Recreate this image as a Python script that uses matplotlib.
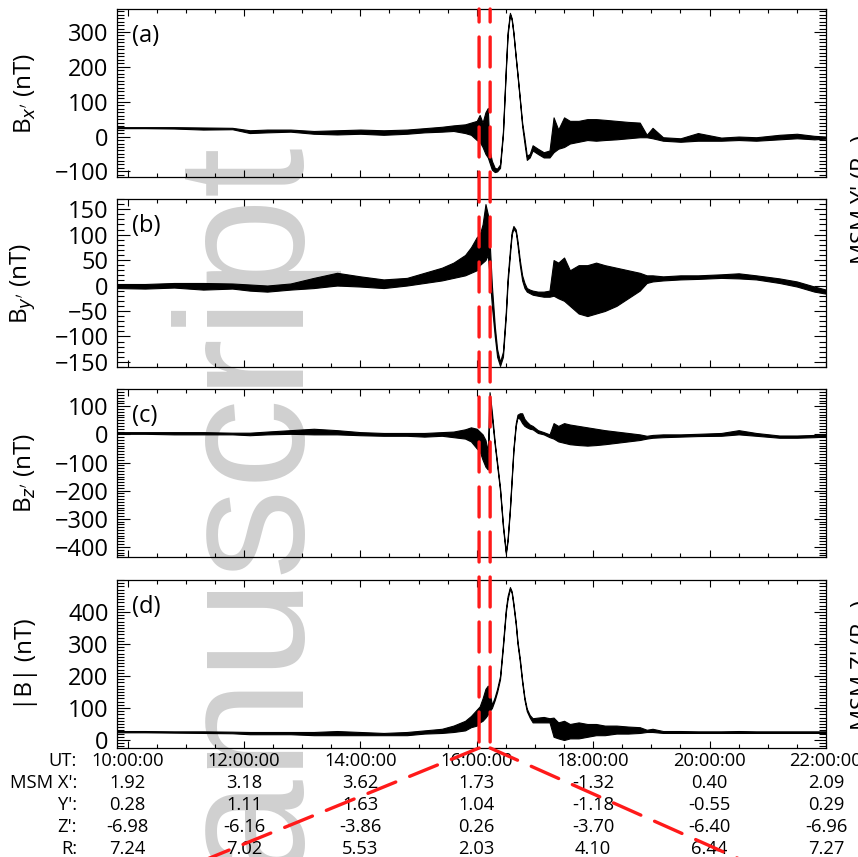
import numpy as np
import matplotlib
matplotlib.use('Agg')
import matplotlib.pyplot as plt
from matplotlib.patches import ConnectionPatch
from matplotlib.ticker import MultipleLocator

plt.rcParams['font.family'] = ['Open Sans', 'DejaVu Sans']

# time knots (hours UT) and lower / upper envelope of the trace
t_hr = [9.82, 10.3, 10.8, 11.3, 11.8, 12.1, 12.4, 12.8, 13.2, 13.6, 14.0, 14.4, 14.8,
        15.1, 15.4, 15.6, 15.8, 15.9, 16.0, 16.05, 16.1, 16.15, 16.19, 16.22, 16.26,
        16.31, 16.35, 16.40, 16.45, 16.50, 16.53, 16.57, 16.60, 16.63, 16.67, 16.70,
        16.74, 16.78, 16.82, 16.86, 16.91, 16.96, 17.05, 17.15, 17.25, 17.32, 17.40,
        17.50, 17.60, 17.75, 17.90, 18.05, 18.2, 18.4, 18.6, 18.8, 18.92, 19.02, 19.2,
        19.5, 19.8, 20.2, 20.5, 20.8, 21.2, 21.5, 21.8, 22.0]

bx_lo = [24, 24, 23, 20, 21, 10, 12, 14, 8, 6, 8, 5, 8,
         12, 14, 16, 10, 5, -10, -15, -30, -50, -60, -75, -95,
         -102, -100, -90, 5, 190, 290, 350, 335, 295, 225, 175,
         105, 30, -20, -67, -60, -40, -50, -60, -60, -45, -35,
         -30, -20, -15, -10, -12, -10, -8, -5, -2, -2, -5, -12,
         -15, -12, -12, -10, -12, -8, -5, -8, -6]
bx_hi = [27, 27, 27, 26, 25, 18, 20, 20, 16, 18, 20, 18, 20,
         24, 28, 32, 35, 40, 45, 62, 40, 70, 82, -40, -70,
         -90, -92, -80, 15, 200, 300, 355, 340, 300, 230, 180,
         110, 40, -5, -55, -50, -25, -35, -45, -40, 55, 20,
         55, 45, 45, 50, 50, 48, 45, 42, 40, 5, 25, -2,
         -5, 10, -3, 0, -2, 5, 8, 2, 0]

by_lo = [-5, -6, -4, -8, -6, -10, -12, -8, -5, 0, -2, -5, 0,
         5, 10, 15, 20, 25, 30, 40, 45, 50, 60, 20, -40,
         -100, -140, -158, -140, -60, 5, 60, 100, 112, 105, 80,
         40, 10, -5, -12, -15, -18, -20, -22, -22, -20, -25,
         -30, -40, -55, -60, -55, -50, -40, -25, -10, 5, 8, 10,
         12, 13, 15, 14, 12, 5, -2, -12, -16]
by_hi = [3, 3, 5, 5, 4, 2, 0, 4, 15, 25, 18, 12, 15,
         25, 35, 45, 60, 75, 95, 100, 120, 160, 140, 90, 0,
         -80, -125, -150, -130, -50, 15, 70, 105, 117, 110, 88,
         50, 20, 5, -5, -8, -10, -12, -12, -10, 50, 45,
         55, 30, 40, 40, 45, 40, 35, 30, 25, 20, 20, 18,
         20, 20, 22, 24, 20, 14, 8, -2, -8]

bz_lo = [2, 2, 0, 0, 0, -3, 0, 2, 0, 0, -3, -5, -5,
         -8, -5, -10, -15, -25, -50, -60, -90, -115, -125, 100, 60,
         -40, -110, -200, -330, -425, -380, -270, -165, -60, 30, 60,
         55, 40, 30, 25, 20, 18, 5, 0, -10, -15, -25,
         -30, -35, -38, -40, -38, -35, -30, -25, -20, -15, -12, -10,
         -8, -6, -5, 0, -5, -12, -12, -10, -8]
bz_hi = [8, 8, 8, 8, 6, 6, 10, 15, 20, 15, 8, 5, 5,
         5, 8, 10, 18, 25, 20, 10, 0, -20, -60, 150, 80,
         -30, -100, -190, -320, -418, -370, -260, -155, -50, 40, 70,
         75, 75, 55, 45, 35, 30, 15, 8, 0, 40, 30,
         40, 35, 30, 25, 20, 15, 10, 5, 0, -5, -2, 0,
         0, 2, 5, 15, 5, -4, -4, -2, 0]

bt_lo = [24, 24, 23, 22, 21, 18, 18, 18, 15, 15, 15, 15, 15,
         20, 22, 25, 30, 40, 45, 55, 60, 70, 80, 90, 100,
         125, 150, 190, 290, 400, 440, 472, 460, 420, 360, 300,
         245, 180, 125, 90, 70, 55, 55, 55, 55, 10, 5,
         0, 5, 5, 10, 15, 15, 20, 20, 22, 25, 25, 22,
         22, 22, 22, 22, 22, 22, 22, 22, 22]
bt_hi = [28, 28, 27, 27, 26, 25, 25, 25, 25, 28, 25, 22, 25,
         30, 35, 45, 60, 75, 95, 105, 130, 160, 170, 150, 110,
         135, 160, 200, 300, 410, 450, 478, 465, 428, 368, 308,
         255, 188, 133, 98, 78, 68, 70, 72, 68, 70, 55,
         60, 50, 55, 50, 50, 45, 45, 42, 40, 32, 35, 28,
         28, 27, 27, 28, 27, 27, 27, 27, 27]

panel_tags = ['(a)', '(b)', '(c)', '(d)']
ylabels = ["B$_{x'}$ (nT)", "B$_{y'}$ (nT)", "B$_{z'}$ (nT)", "|B| (nT)"]
ylims = [(-116, 366), (-160, 170), (-436, 161), (-25, 500)]
yticks = [[-100, 0, 100, 200, 300],
          [-150, -100, -50, 0, 50, 100, 150],
          [-400, -300, -200, -100, 0, 100],
          [0, 100, 200, 300, 400]]

# interval boundaries (UT hours)
t_start, t_end = 16.04, 16.23

ut_ticks = [10, 12, 14, 16, 18, 20, 22]
ut_labels = ['10:00:00', '12:00:00', '14:00:00', '16:00:00', '18:00:00', '20:00:00', '22:00:00']
msm_x = ['1.92', '3.18', '3.62', '1.73', '-1.32', '0.40', '2.09']
msm_y = ['0.28', '1.11', '1.63', '1.04', '-1.18', '-0.55', '0.29']
msm_z = ['-6.98', '-6.16', '-3.86', '0.26', '-3.70', '-6.40', '-6.96']
msm_r = ['7.24', '7.02', '5.53', '2.03', '4.10', '6.44', '7.27']
row_names = ['UT:', "MSM X':", "Y':", "Z':", 'R:']

fig = plt.figure(figsize=(8.58, 8.57), dpi=100)

# watermark behind everything
fig.text(0.34, 0.8425, 'manuscript', rotation=90, rotation_mode='anchor',
         ha='right', va='baseline', fontsize=130, color='#d0d0d0',
         family='Liberation Sans', zorder=-10)

# cut-off labels of the neighbouring panels
fig.text(1.013, 0.767, "MSM Y' (R$_M$)", rotation=90, rotation_mode='anchor',
         ha='center', va='baseline', fontsize=17)
fig.text(1.013, 0.224, "MSM Z' (R$_M$)", rotation=90, rotation_mode='anchor',
         ha='center', va='baseline', fontsize=17)

left, width, height = 0.1364, 0.8263, 0.196
bottoms = [0.7935, 0.5718, 0.3500, 0.1272]
series = [(bx_lo, bx_hi), (by_lo, by_hi), (bz_lo, bz_hi), (bt_lo, bt_hi)]

axes = []
for i in range(4):
    ax = fig.add_axes([left, bottoms[i], width, height])
    ax.patch.set_visible(False)
    lo, hi = series[i]
    ax.fill_between(t_hr, lo, hi, facecolor='k', edgecolor='k', lw=0.8)
    ax.set_xlim(9.82, 22.0)
    ax.set_ylim(*ylims[i])
    ax.set_yticks(yticks[i])
    ax.yaxis.set_minor_locator(MultipleLocator(10))
    ax.set_xticks(ut_ticks)
    ax.xaxis.set_minor_locator(MultipleLocator(0.5))
    ax.tick_params(which='both', direction='in', top=True, right=True,
                   labelbottom=False, labelsize=17, pad=6, width=0.8)
    ax.tick_params(axis='y', which='major', length=9)
    ax.tick_params(axis='y', which='minor', length=5)
    ax.tick_params(axis='x', which='major', length=5)
    ax.tick_params(axis='x', which='minor', length=3)
    for sp in ax.spines.values():
        sp.set_linewidth(0.9)
    ax.set_ylabel(ylabels[i], fontsize=17.5)
    ax.yaxis.set_label_coords(-0.112, 0.5)
    ax.text(0.021, 0.84, panel_tags[i], transform=ax.transAxes,
            ha='left', va='center', fontsize=17)
    axes.append(ax)

ax_d = axes[3]
rows = [ut_labels, msm_x, msm_y, msm_z, msm_r]
row_off = [9.4, 25.2, 41.0, 56.9, 72.7]
for r, vals in enumerate(rows):
    for t, v in zip(ut_ticks, vals):
        ax_d.annotate(v, xy=(t, 0), xycoords=('data', 'axes fraction'),
                      xytext=(0, -row_off[r]), textcoords='offset points',
                      ha='center', va='center', fontsize=13.2, annotation_clip=False)
    ax_d.annotate(row_names[r], xy=(-0.0564, 0), xycoords='axes fraction',
                  xytext=(0, -row_off[r]), textcoords='offset points',
                  ha='right', va='center', fontsize=13.2, annotation_clip=False)

# dashed red markers through all panels, then fanning out below
red = '#ff1a1a'
for t in (t_start, t_end):
    cp = ConnectionPatch(xyA=(t, ylims[0][1]), coordsA=axes[0].transData,
                         xyB=(t, ylims[3][0]), coordsB=ax_d.transData,
                         color=red, lw=2.4, linestyle=(5.1, (9, 4.5)))
    fig.add_artist(cp)

for t, end in ((t_start, (0.191, -0.023)), (t_end, (0.908, -0.023))):
    cp = ConnectionPatch(xyA=(t, ylims[3][0]), coordsA=ax_d.transData,
                         xyB=end, coordsB='figure fraction',
                         color=red, lw=2.4, linestyle=(0, (9, 4.5)))
    fig.add_artist(cp)

fig.savefig('out.png', dpi=100, facecolor='white')
